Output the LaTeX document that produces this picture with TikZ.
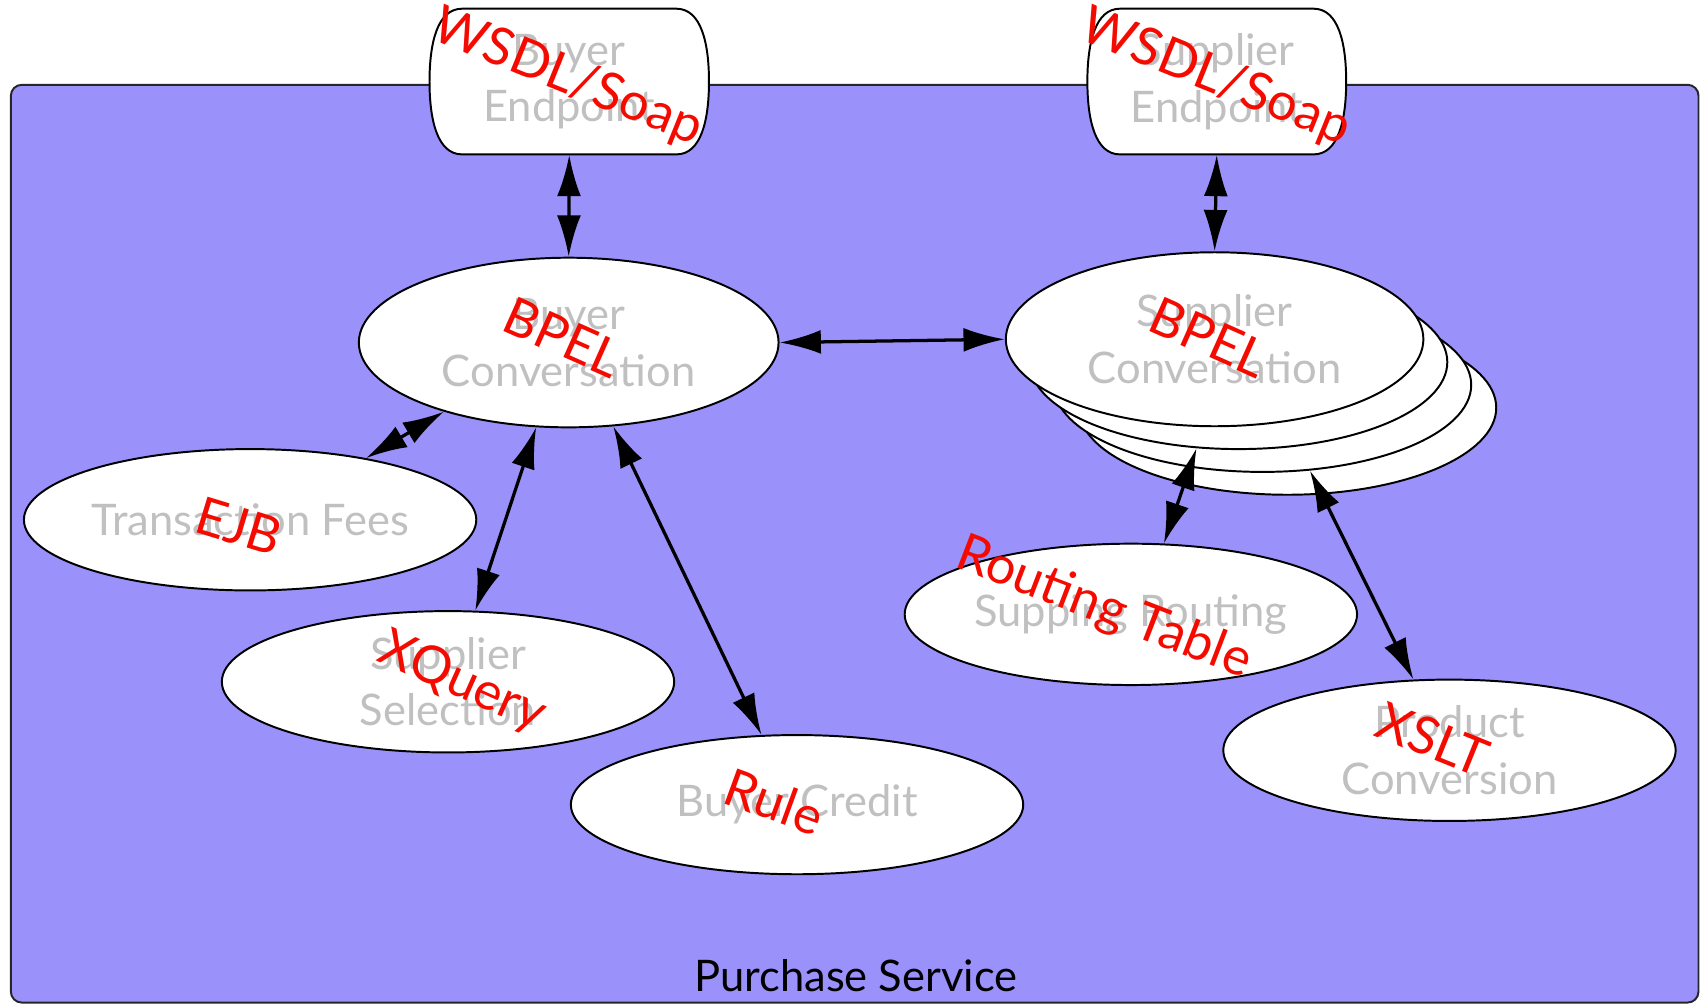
\documentclass[tikz,border=0pt]{standalone}
\usepackage{fontspec}
\setmainfont{Lato}
\usetikzlibrary{shapes.geometric,arrows.meta}
\definecolor{bgpurple}{RGB}{155,145,250}
\definecolor{graytxt}{RGB}{192,192,192}
\definecolor{redtxt}{RGB}{245,10,0}
\begin{document}
\begin{tikzpicture}[x=0.5pt,y=-0.5pt,
  comp/.style={ellipse, draw=black, line width=0.9pt, fill=white, inner sep=0pt,
    text=graytxt, font=\fontsize{20}{26}\selectfont, align=center},
  epbox/.style={rectangle, inner sep=0pt, text=graytxt,
    font=\fontsize{20}{26}\selectfont, align=center},
  epshape/.style={draw=black, line width=0.9pt, fill=white},
  tech/.style={text=redtxt, font=\fontsize{24}{28}\selectfont, inner sep=0pt},
  link/.style={line width=1.5pt, {Latex[length=19pt,width=11pt]}-{Latex[length=19pt,width=11pt]}}
]
\useasboundingbox (0,0) rectangle (1568,924);
% container
\draw[fill=bgpurple, draw=black!85, line width=0.9pt, rounded corners=5pt] (10,78) rectangle (1562,922);
\node[font=\fontsize{20}{24}\selectfont, text=black] (title) at (787,897) {Purchase Service};

% endpoints
\draw[epshape] (425,8) -- (622,8) .. controls (645,8) and (652,40) .. (652,75)
  .. controls (652,110) and (645,142) .. (622,142) -- (425,142)
  .. controls (402,142) and (395,110) .. (395,75) .. controls (395,40) and (402,8) .. (425,8) -- cycle;
\node[epbox, minimum width=128.5pt, minimum height=67pt] (bep) at (523.5,75) {Buyer\\Endpoint};
\draw[epshape] (1030,8) -- (1208,8) .. controls (1231,8) and (1238,40) .. (1238,75)
  .. controls (1238,110) and (1231,142) .. (1208,142) -- (1030,142)
  .. controls (1007,142) and (1000,110) .. (1000,75) .. controls (1000,40) and (1007,8) .. (1030,8) -- cycle;
\node[epbox, minimum width=119pt, minimum height=67pt] (sep) at (1119,75) {Supplier\\Endpoint};

% buyer side
\node[comp, minimum width=193pt, minimum height=78pt] (bconv) at (523,315) {Buyer\\Conversation};
\node[comp, minimum width=208pt, minimum height=65pt] (tfees) at (230,478) {Transaction Fees};
\node[comp, minimum width=208pt, minimum height=65pt] (ssel) at (412,627) {Supplier\\Selection};
\node[comp, minimum width=208pt, minimum height=64pt] (bcred) at (733,740) {Buyer Credit};

% supplier stack
\node[comp, minimum width=192pt, minimum height=80pt] (s4) at (1184,375) {};
\node[comp, minimum width=192pt, minimum height=80pt] (s3) at (1161,354) {};
\node[comp, minimum width=192pt, minimum height=80pt] (s2) at (1139,333) {};
\node[comp, minimum width=192pt, minimum height=80pt] (s1) at (1117,312) {Supplier\\Conversation};
\node[comp, minimum width=208pt, minimum height=65pt] (rout) at (1040,565) {Supping Routing};
\node[comp, minimum width=208pt, minimum height=65pt] (prod) at (1333,690) {Product\\Conversion};

% connectors
\draw[link] (bep.south) -- (bconv.north);
\draw[link] (sep.south) -- (s1.north);
\draw[link] (bconv.east) -- (s1.west);
\draw[link] (bconv.209.6) -- (tfees.28.6);
\draw[link] (bconv.249.4) -- (ssel.69.5);
\draw[link] (bconv.298.3) -- (bcred.117.9);
\draw[link] (s2.244.9) -- (rout.65.2);
\draw[link] (s3.299.4) -- (prod.117.2);

% technology labels
\node[tech, rotate=-22] (tw1) at (522,72) {WSDL/Soap};
\node[tech, rotate=-22] (tw2) at (1118,72) {WSDL/Soap};
\node[tech, rotate=-24] (tb1) at (518,310) {BPEL};
\node[tech, rotate=-24] (tb2) at (1112,310) {BPEL};
\node[tech, rotate=-17] (tejb) at (220,484) {EJB};
\node[tech, rotate=-24] (txq) at (425,628) {XQuery};
\node[tech, rotate=-20] (trule) at (712,737) {Rule};
\node[tech, rotate=-21] (trt) at (1015,560) {Routing Table};
\node[tech, rotate=-22] (txslt) at (1318,680) {XSLT};
\end{tikzpicture}
\end{document}
